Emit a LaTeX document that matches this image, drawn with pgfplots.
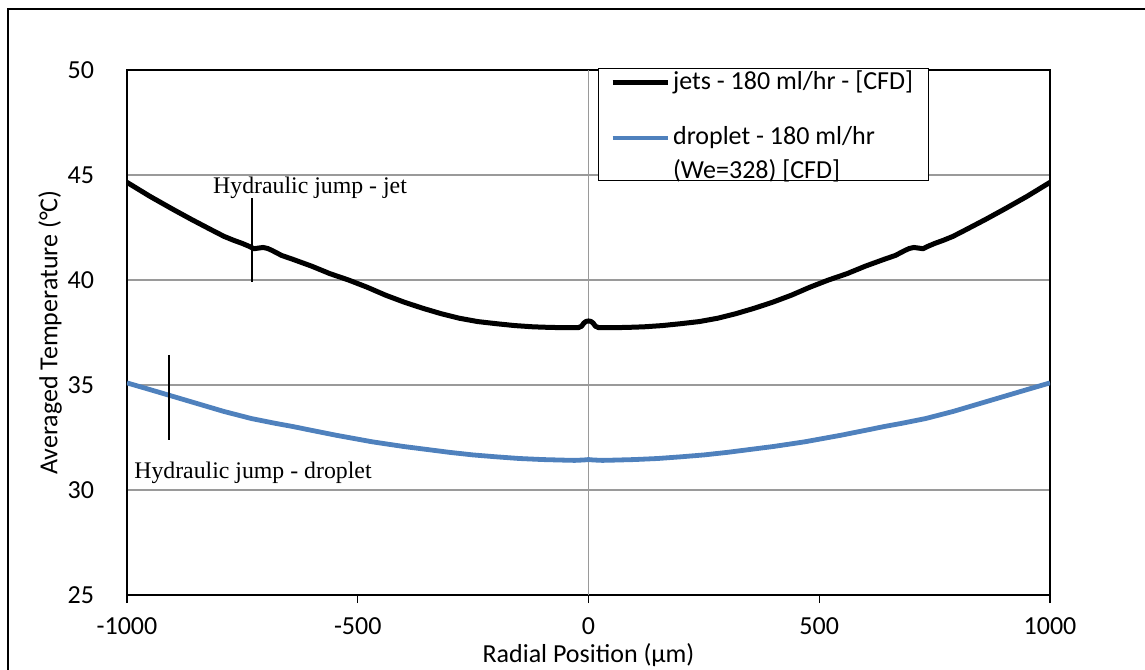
\documentclass[border=0pt]{standalone}
\usepackage{pgfplots}
\pgfplotsset{compat=1.18}
\usepackage{fontspec}
\setmainfont{Carlito}
\newfontfamily\timesfont{Liberation Serif}

\definecolor{jetblack}{HTML}{000000}
\definecolor{dropblue}{HTML}{4F81BD}
\definecolor{gridgray}{HTML}{9A9A9A}

% averaged temperature, jets, 180 ml/hr (CFD)
\pgfplotstableread{
x y
-1000 44.65
-950 43.98
-900 43.36
-860 42.88
-820 42.42
-790 42.08
-770 41.90
-750 41.74
-735 41.60
-725 41.49
-715 41.52
-705 41.55
-695 41.50
-685 41.40
-665 41.17
-640 40.98
-600 40.66
-560 40.30
-520 40.00
-480 39.66
-440 39.28
-400 38.95
-360 38.66
-320 38.40
-280 38.18
-240 38.02
-200 37.92
-160 37.83
-120 37.77
-80 37.74
-40 37.73
-22 37.73
-15 37.80
-10 37.95
-5 38.03
0 38.05
5 38.03
10 37.95
15 37.80
22 37.73
40 37.73
80 37.74
120 37.77
160 37.83
200 37.92
240 38.02
280 38.18
320 38.40
360 38.66
400 38.95
440 39.28
480 39.66
520 40.00
560 40.30
600 40.66
640 40.98
665 41.17
685 41.40
695 41.50
705 41.55
715 41.52
725 41.49
735 41.60
750 41.74
770 41.90
790 42.08
820 42.42
860 42.88
900 43.36
950 43.98
1000 44.65
}\jetdata

% averaged temperature, droplet, 180 ml/hr, We=328 (CFD)
\pgfplotstableread{
x y
-1000 35.10
-950 34.78
-910 34.52
-850 34.13
-790 33.74
-730 33.40
-680 33.18
-640 33.02
-600 32.84
-550 32.62
-500 32.42
-470 32.30
-455 32.25
-440 32.20
-400 32.07
-350 31.93
-300 31.79
-250 31.67
-200 31.58
-150 31.50
-100 31.45
-50 31.42
-30 31.41
-10 31.43
0 31.45
10 31.43
30 31.41
50 31.42
100 31.45
150 31.50
200 31.58
250 31.67
300 31.79
350 31.93
400 32.07
440 32.20
455 32.25
470 32.30
500 32.42
550 32.62
600 32.84
640 33.02
680 33.18
730 33.40
790 33.74
850 34.13
910 34.52
950 34.78
1000 35.10
}\dropdata

\begin{document}
\begin{tikzpicture}[font=\fontsize{13}{16}\selectfont]
\useasboundingbox (-63.5pt,-37pt) rectangle (509pt,297.5pt);
% outer frame
\draw[line width=0.6pt] (-59.5pt,-80pt) -- (-59.5pt,293pt) -- (540pt,293pt);
\begin{axis}[
  at={(0,0)}, anchor=south west,
  scale only axis, width=461.5pt, height=262.5pt,
  xmin=-1000, xmax=1000, ymin=25, ymax=50,
  xtick={-1000,-500,0,500,1000},
  ytick={25,30,35,40,45,50},
  xtick pos=lower,
  /pgf/number format/assume math mode=true,
  /pgf/number format/1000 sep={},
  ymajorgrids,
  grid style={gridgray, line width=0.8pt},
  axis line style={line width=0.7pt},
  tick align=outside,
  major tick length=4pt,
  ytick style={draw=none},
  xtick style={black, line width=0.7pt},
  yticklabel style={xshift=-9pt},
  xticklabel style={yshift=-4pt},
  every axis y label/.style={at={(rel axis cs:-0.0834,0.5)}, rotate=90, anchor=center},
  every axis x label/.style={at={(rel axis cs:0.5,0)}, anchor=center, yshift=-30pt},
  ylabel={Averaged Temperature (°C)},
  xlabel={Radial Position (µm)},
  legend image code/.code={\draw[#1] (0pt,0pt) -- (27.5pt,0pt);},
  legend cell align=left,
  legend style={
    at={(axis cs:19.5,50.1)}, anchor=north west,
    draw=black, line width=0.6pt, fill=white,
    inner xsep=6pt, inner ysep=1pt,
    nodes={inner sep=0pt, text depth=},
    row sep=2pt,
    /tikz/every odd column/.style={column sep=1.5pt},
  },
]
\draw[gridgray, line width=0.8pt] (axis cs:0,25) -- (axis cs:0,50);

\addplot[jetblack, line width=2.5pt, line join=round] table[x=x,y=y] {\jetdata};
\addlegendentry{\parbox[t]{121.5pt}{jets - 180 ml/hr - [CFD]}}
\addplot[dropblue, line width=2.4pt, line join=round] table[x=x,y=y] {\dropdata};
\addlegendentry{\raisebox{0pt}[23.4pt][16.8pt]{\parbox[t]{121.5pt}{\baselineskip=17pt droplet - 180 ml/hr\\(We=328) [CFD]}}}

% hydraulic jump markers
\draw[line width=1pt] (axis cs:-730,43.9) -- (axis cs:-730,39.9);
\node[anchor=base west, inner sep=0pt, font=\timesfont\fontsize{11.9}{14}\selectfont] at (axis cs:-814,44.14) {Hydraulic jump - jet};
\draw[line width=1pt] (axis cs:-910,36.43) -- (axis cs:-910,32.38);
\node[anchor=base west, inner sep=0pt, font=\timesfont\fontsize{11.9}{14}\selectfont] at (axis cs:-985,30.57) {Hydraulic jump - droplet};
\end{axis}
\end{tikzpicture}
\end{document}
